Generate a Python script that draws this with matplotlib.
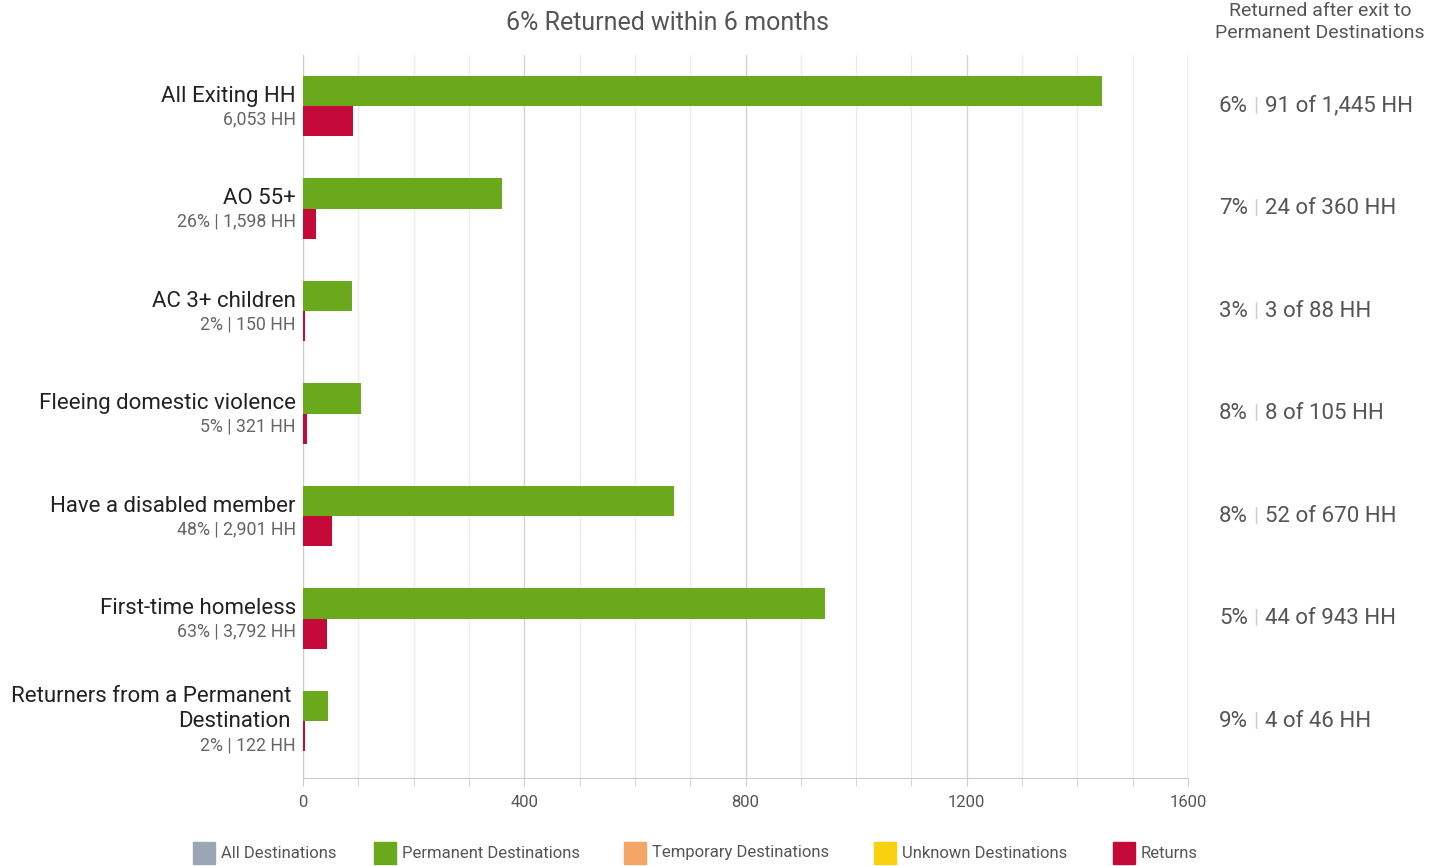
import matplotlib.pyplot as plt
import matplotlib.transforms as mtransforms
from matplotlib.patches import Rectangle

plt.rcParams['font.family'] = ['Roboto', 'DejaVu Sans']

# data
groups = ["All Exiting HH", "AO 55+", "AC 3+ children", "Fleeing domestic violence",
          "Have a disabled member", "First-time homeless",
          "Returners from a Permanent\nDestination"]
sub_labels = ["6,053 HH", "26% | 1,598 HH", "2% | 150 HH", "5% | 321 HH",
              "48% | 2,901 HH", "63% | 3,792 HH", "2% | 122 HH"]
permanent = [1445, 360, 88, 105, 670, 943, 46]
returns = [91, 24, 3, 8, 52, 44, 4]
return_pct = ["6%", "7%", "3%", "8%", "8%", "5%", "9%"]
legend_names = ["All Destinations", "Permanent Destinations", "Temporary Destinations",
                "Unknown Destinations", "Returns"]
legend_colors = ["#9ba6b5", "#6aa81c", "#f5a565", "#f9d10f", "#c50a3a"]

GREEN = "#6aa81c"
RED = "#c50a3a"

fig = plt.figure(figsize=(14.29, 8.66), dpi=100)
ax = fig.add_axes([303 / 1429, 1 - 778 / 866, 885 / 1429, 723 / 866])

y = list(range(len(groups)))
h = 0.295
ax.barh([v - h / 2 for v in y], permanent, height=h, color=GREEN, zorder=3)
ax.barh([v + h / 2 for v in y], returns, height=h, color=RED, zorder=3)

ax.set_xlim(0, 1600)
ax.set_ylim(6.556, -0.4976)
ax.set_xticks([0, 400, 800, 1200, 1600])
ax.set_xticks(range(0, 1601, 100), minor=True)
ax.set_yticks([])
ax.grid(axis='x', which='minor', color='#ececec', lw=1, zorder=0)
ax.grid(axis='x', which='major', color='#d4d4d4', lw=1, zorder=0)
for s in ['top', 'right']:
    ax.spines[s].set_visible(False)
ax.spines['left'].set_color('#cccccc')
ax.spines['bottom'].set_color('#cccccc')
ax.axvline(1600, color='#cccccc', lw=1, zorder=1)
ax.tick_params(axis='x', which='both', color='#cccccc', length=6, labelsize=12,
               labelcolor='#555555', pad=6)

# left labels
ytrans = ax.get_yaxis_transform()
for i in y:
    two = "\n" in groups[i]
    ax.annotate(groups[i], (-0.008, i), xycoords=ytrans,
                xytext=(-5 if two else 0, 12 if two else 10),
                textcoords='offset pixels', ha='right', va='center', fontsize=16,
                color='#222222', linespacing=1.3)
    ax.annotate(sub_labels[i], (-0.008, i), xycoords=ytrans, xytext=(0, -24 if two else -13),
                textcoords='offset pixels', ha='right', va='center', fontsize=12.8,
                color='#666666')

# right labels
trans = mtransforms.blended_transform_factory(fig.transFigure, ax.transData)
for i in y:
    ax.text(1219 / 1429, i, return_pct[i], transform=trans, ha='left', va='center',
            fontsize=16, color='#555555')
    ax.text(1256 / 1429, i, "|", transform=trans, ha='center', va='center',
            fontsize=15, color='#cccccc')
    ax.text(1265 / 1429, i, f"{returns[i]} of {permanent[i]:,} HH", transform=trans,
            ha='left', va='center', fontsize=16, color='#555555')

fig.text(667 / 1429, 1 - 23 / 866, "6% Returned within 6 months", ha='center',
         va='center', fontsize=18, color='#555555')
fig.text(1320 / 1429, 1 - 22 / 866, "Returned after exit to\nPermanent Destinations",
         ha='center', va='center', fontsize=14, color='#555555', linespacing=1.25)

# legend
legend_x = [193, 374, 624, 874, 1113]
for x, name, c in zip(legend_x, legend_names, legend_colors):
    fig.patches.append(Rectangle((x / 1429, 1 - 864 / 866), 22 / 1429, 22 / 866,
                                 transform=fig.transFigure, color=c))
    fig.text((x + 28) / 1429, 1 - 853 / 866, name, ha='left', va='center',
             fontsize=12, color='#555555')

fig.savefig("out.png", dpi=100)
